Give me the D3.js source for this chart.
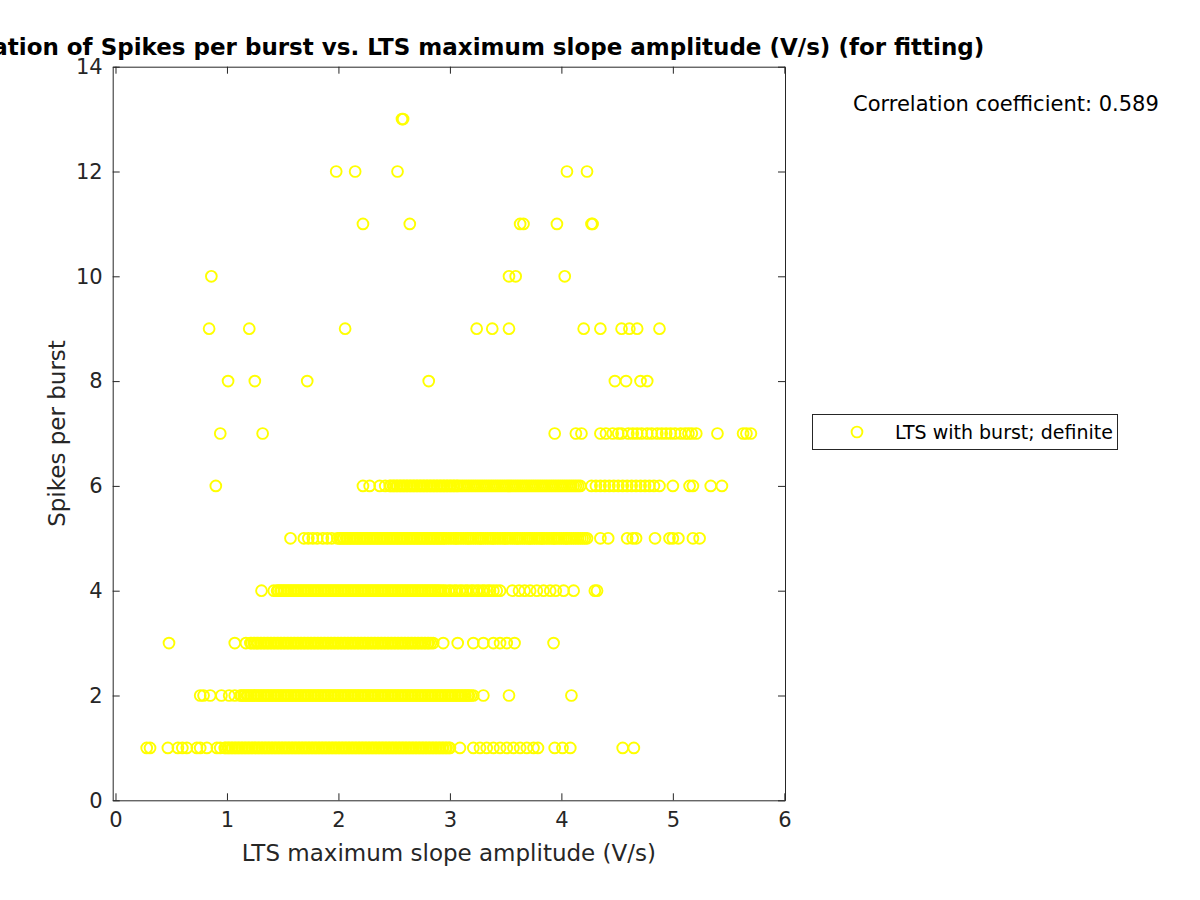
<!DOCTYPE html>
<html>
<head>
<meta charset="utf-8">
<script src="https://cdn.jsdelivr.net/npm/d3@7"></script>
<style>
  body { margin: 0; background: #fff; }
  text { font-family: "DejaVu Sans", sans-serif; fill: #262626; }
</style>
</head>
<body>
<div id="chart"></div>
<script>
// LTS maximum slope amplitude (V/s) values, one array per spikes-per-burst level
const slopeAt1 = [0.28, 0.31, 0.47, 0.56, 0.60, 0.64, 0.73, 0.76, 0.82, 0.91, 0.94,
  0.98, 0.99, 1.01, 1.02, 1.04, 1.05, 1.07, 1.08, 1.10, 1.11, 1.13, 1.14, 1.16, 1.17, 1.19,
  1.20, 1.22, 1.23, 1.25, 1.26, 1.28, 1.29, 1.31, 1.32, 1.34, 1.35, 1.37, 1.38, 1.40, 1.41,
  1.43, 1.44, 1.46, 1.47, 1.49, 1.50, 1.52, 1.53, 1.55, 1.56, 1.58, 1.59, 1.61, 1.62, 1.64,
  1.65, 1.67, 1.68, 1.70, 1.71, 1.73, 1.74, 1.76, 1.77, 1.79, 1.80, 1.82, 1.83, 1.85, 1.86,
  1.88, 1.89, 1.91, 1.92, 1.94, 1.95, 1.97, 1.98, 2.00, 2.01, 2.03, 2.04, 2.06, 2.07, 2.09,
  2.10, 2.12, 2.13, 2.15, 2.16, 2.18, 2.19, 2.21, 2.22, 2.24, 2.25, 2.27, 2.28, 2.30, 2.31,
  2.33, 2.34, 2.36, 2.37, 2.39, 2.40, 2.42, 2.43, 2.45, 2.46, 2.48, 2.49, 2.51, 2.52, 2.54,
  2.55, 2.57, 2.58, 2.60, 2.61, 2.63, 2.64, 2.66, 2.67, 2.69, 2.70, 2.72, 2.73, 2.75, 2.76,
  2.78, 2.79, 2.81, 2.82, 2.84, 2.85, 2.87, 2.88, 2.90, 2.91, 2.93, 2.94, 2.96, 2.97, 2.99,
  3.00, 3.09, 3.21, 3.27, 3.33, 3.39, 3.45, 3.51, 3.57, 3.63, 3.69, 3.75, 3.79, 3.94, 4.01,
  4.08, 4.55, 4.65];
const slopeAt2 = [0.76, 0.79, 0.85, 0.95, 1.02, 1.07,
  1.12, 1.13, 1.15, 1.16, 1.18, 1.19, 1.21, 1.22, 1.24, 1.25, 1.27, 1.28, 1.30, 1.31, 1.33,
  1.34, 1.36, 1.37, 1.39, 1.40, 1.42, 1.43, 1.45, 1.46, 1.48, 1.49, 1.51, 1.52, 1.54, 1.55,
  1.57, 1.58, 1.60, 1.61, 1.63, 1.64, 1.66, 1.67, 1.69, 1.70, 1.72, 1.73, 1.75, 1.76, 1.78,
  1.79, 1.81, 1.82, 1.84, 1.85, 1.87, 1.88, 1.90, 1.91, 1.93, 1.94, 1.96, 1.97, 1.99, 2.00,
  2.02, 2.03, 2.05, 2.06, 2.08, 2.09, 2.11, 2.12, 2.14, 2.15, 2.17, 2.18, 2.20, 2.21, 2.23,
  2.24, 2.26, 2.27, 2.29, 2.30, 2.32, 2.33, 2.35, 2.36, 2.38, 2.39, 2.41, 2.42, 2.44, 2.45,
  2.47, 2.48, 2.50, 2.51, 2.53, 2.54, 2.56, 2.57, 2.59, 2.60, 2.62, 2.63, 2.65, 2.66, 2.68,
  2.69, 2.71, 2.72, 2.74, 2.75, 2.77, 2.78, 2.80, 2.81, 2.83, 2.84, 2.86, 2.87, 2.89, 2.90,
  2.92, 2.93, 2.95, 2.96, 2.98, 2.99, 3.01, 3.02, 3.04, 3.05, 3.07, 3.08, 3.10, 3.11, 3.13,
  3.14, 3.16, 3.17, 3.19, 3.21, 3.30, 3.53, 4.09];
const slopeAt3 = [0.48, 1.07, 1.17,
  1.21, 1.22, 1.24, 1.25, 1.27, 1.28, 1.30, 1.31, 1.33, 1.34, 1.36, 1.37, 1.39, 1.40, 1.42,
  1.43, 1.45, 1.46, 1.48, 1.49, 1.51, 1.52, 1.54, 1.55, 1.57, 1.58, 1.60, 1.61, 1.63, 1.64,
  1.66, 1.67, 1.69, 1.70, 1.72, 1.73, 1.75, 1.76, 1.78, 1.79, 1.81, 1.82, 1.84, 1.85, 1.87,
  1.88, 1.90, 1.91, 1.93, 1.94, 1.96, 1.97, 1.99, 2.00, 2.02, 2.03, 2.05, 2.06, 2.08, 2.09,
  2.11, 2.12, 2.14, 2.15, 2.17, 2.18, 2.20, 2.21, 2.23, 2.24, 2.26, 2.27, 2.29, 2.30, 2.32,
  2.33, 2.35, 2.36, 2.38, 2.39, 2.41, 2.42, 2.44, 2.45, 2.47, 2.48, 2.50, 2.51, 2.53, 2.54,
  2.56, 2.57, 2.59, 2.60, 2.62, 2.63, 2.65, 2.66, 2.68, 2.69, 2.71, 2.72, 2.74, 2.75, 2.77,
  2.78, 2.80, 2.81, 2.83, 2.85,
  2.94, 3.07, 3.21, 3.30, 3.39, 3.45, 3.51, 3.58, 3.93];
const slopeAt4 = [1.31, 1.42,
  1.45, 1.46, 1.48, 1.49, 1.51, 1.52, 1.54, 1.55, 1.57, 1.58, 1.60, 1.61, 1.63, 1.64, 1.66,
  1.67, 1.69, 1.70, 1.72, 1.73, 1.75, 1.76, 1.78, 1.79, 1.81, 1.82, 1.84, 1.85, 1.87, 1.88,
  1.90, 1.91, 1.93, 1.94, 1.96, 1.97, 1.99, 2.00, 2.02, 2.03, 2.05, 2.06, 2.08, 2.09, 2.11,
  2.12, 2.14, 2.15, 2.17, 2.18, 2.20, 2.21, 2.23, 2.24, 2.26, 2.27, 2.29, 2.30, 2.32, 2.33,
  2.35, 2.36, 2.38, 2.39, 2.41, 2.42, 2.44, 2.45, 2.47, 2.48, 2.50, 2.51, 2.53, 2.54, 2.56,
  2.57, 2.59, 2.60, 2.62, 2.63, 2.65, 2.66, 2.68, 2.69, 2.71, 2.72, 2.74, 2.75, 2.77, 2.78,
  2.80, 2.81, 2.83, 2.84, 2.86, 2.87, 2.89, 2.90, 2.92, 2.94,
  2.96, 2.99, 3.01, 3.04, 3.06, 3.09, 3.11, 3.14, 3.16, 3.19, 3.21, 3.24, 3.26, 3.29, 3.31,
  3.34, 3.36, 3.39, 3.42,
  3.45, 3.56, 3.62, 3.67, 3.72, 3.78, 3.84, 3.90, 3.95, 4.02, 4.11, 4.30, 4.32];
const slopeAt5 = [1.57, 1.69, 1.73, 1.77, 1.81, 1.86, 1.90, 1.94, 1.99,
  2.01, 2.02, 2.04, 2.05, 2.07, 2.08, 2.10, 2.11, 2.13, 2.14, 2.16, 2.17, 2.19, 2.20, 2.22,
  2.23, 2.25, 2.26, 2.28, 2.29, 2.31, 2.32, 2.34, 2.35, 2.37, 2.38, 2.40, 2.41, 2.43, 2.44,
  2.46, 2.47, 2.49, 2.50, 2.52, 2.53, 2.55, 2.56, 2.58, 2.59, 2.61, 2.62, 2.64, 2.65, 2.67,
  2.68, 2.70, 2.71, 2.73, 2.74, 2.76, 2.77, 2.79, 2.80, 2.82, 2.83, 2.85, 2.86, 2.88, 2.89,
  2.91, 2.92, 2.94, 2.95,
  2.97, 2.99, 3.01, 3.03, 3.05, 3.06, 3.08, 3.10, 3.12, 3.14, 3.16, 3.17, 3.19, 3.21, 3.23,
  3.25, 3.27, 3.28, 3.30, 3.32, 3.34, 3.36, 3.38, 3.39, 3.41, 3.43, 3.45, 3.47, 3.49, 3.50,
  3.52, 3.54, 3.56, 3.58, 3.60, 3.61, 3.63, 3.65, 3.67, 3.69, 3.71, 3.72, 3.74, 3.76, 3.78,
  3.80, 3.82, 3.83, 3.85, 3.87, 3.89, 3.91, 3.93, 3.94, 3.96, 3.98, 4.00, 4.02, 4.04, 4.05,
  4.07, 4.09, 4.11, 4.13, 4.15, 4.17, 4.19, 4.21, 4.23,
  4.35, 4.42, 4.59, 4.64, 4.67, 4.84, 4.97, 5.00, 5.05, 5.18, 5.24];
const slopeAt6 = [0.90, 2.22, 2.28, 2.37, 2.42,
  2.46, 2.47, 2.49, 2.50, 2.52, 2.53, 2.55, 2.56, 2.58, 2.59, 2.61, 2.62, 2.64, 2.65, 2.67,
  2.68, 2.70, 2.71, 2.73, 2.74, 2.76, 2.77, 2.79, 2.80, 2.82, 2.83, 2.85, 2.86, 2.88, 2.89,
  2.91, 2.92, 2.94, 2.95, 2.97, 2.98, 3.00, 3.01, 3.03, 3.04, 3.06, 3.07, 3.09,
  3.11, 3.13, 3.15, 3.17, 3.19, 3.21, 3.23, 3.25, 3.27, 3.29, 3.31, 3.33, 3.35, 3.37, 3.39,
  3.41, 3.43, 3.45, 3.47, 3.49, 3.51, 3.53, 3.55, 3.57, 3.59, 3.61, 3.63, 3.65, 3.67, 3.69,
  3.71, 3.73, 3.75, 3.77, 3.79, 3.81, 3.83, 3.85, 3.87, 3.89, 3.91, 3.93, 3.95, 3.97, 3.99,
  4.01, 4.03, 4.05, 4.07, 4.09, 4.11, 4.13, 4.15, 4.17,
  4.27, 4.31, 4.35, 4.39, 4.43, 4.47, 4.51, 4.55, 4.59, 4.63, 4.67, 4.71, 4.75, 4.79, 4.83,
  4.88, 5.00, 5.15, 5.18, 5.34, 5.44];
const slopeAt7 = [0.94, 1.32, 3.94, 4.13, 4.18, 4.35, 4.40, 4.46, 4.51, 4.54, 4.60, 4.64,
  4.68, 4.72, 4.77, 4.81, 4.86, 4.90, 4.94, 4.98, 5.02, 5.07, 5.11, 5.14, 5.17, 5.21, 5.40,
  5.63, 5.66, 5.70];
const slopeAt8 = [1.01, 1.25, 1.72, 2.81, 4.48, 4.58, 4.71, 4.77];
const slopeAt9 = [0.84, 1.20, 2.06, 3.24, 3.38, 3.53, 4.20, 4.35, 4.54, 4.61, 4.68, 4.88];
const slopeAt10 = [0.86, 3.53, 3.59, 4.03];
const slopeAt11 = [2.22, 2.64, 3.63, 3.66, 3.96, 4.27, 4.28];
const slopeAt12 = [1.98, 2.15, 2.53, 4.05, 4.23];
const slopeAt13 = [2.57, 2.58];

const spikeLevels = [1, 2, 3, 4, 5, 6, 7, 8, 9, 10, 11, 12, 13];
const slopeByLevel = [slopeAt1, slopeAt2, slopeAt3, slopeAt4, slopeAt5, slopeAt6, slopeAt7,
  slopeAt8, slopeAt9, slopeAt10, slopeAt11, slopeAt12, slopeAt13];

const xTicks = [0, 1, 2, 3, 4, 5, 6];
const yTicks = [0, 2, 4, 6, 8, 10, 12, 14];

const titleText = "Correlation of Spikes per burst vs. LTS maximum slope amplitude (V/s) (for fitting)";
const xLabel = "LTS maximum slope amplitude (V/s)";
const yLabel = "Spikes per burst";
const legendLabel = "LTS with burst; definite";
const corrText = "Correlation coefficient: 0.589";

// flatten into [x, y] pairs
const points = [];
spikeLevels.forEach((lvl, i) => {
  slopeByLevel[i].forEach(v => points.push([v, lvl]));
});

const W = 1200, H = 900;
const plot = {left: 112.7, right: 785, top: 66.7, bottom: 800.3};
const axisColor = "#262626";
const markerColor = "#ffff00";

const svg = d3.select("#chart").append("svg")
  .attr("width", W).attr("height", H)
  .style("background", "#fff");

const x = d3.scaleLinear().domain([-0.025, 6.006]).range([plot.left, plot.right]);
const y = d3.scaleLinear().domain([0, 14]).range([plot.bottom, plot.top]);

// points
svg.append("g").selectAll("circle")
  .data(points)
  .join("circle")
    .attr("cx", d => x(d[0]))
    .attr("cy", d => y(d[1]))
    .attr("r", 5.4)
    .attr("fill", "none")
    .attr("stroke", markerColor)
    .attr("stroke-width", 1.9);

// axes (box with inward ticks on all four sides)
function styleAxis(g) {
  g.select(".domain").attr("stroke", axisColor).attr("stroke-width", 1);
  g.selectAll(".tick line").attr("stroke", axisColor).attr("stroke-width", 1);
  g.selectAll(".tick text").attr("fill", axisColor)
    .style("font-family", "DejaVu Sans").style("font-size", "21px");
}

svg.append("g")
  .attr("transform", `translate(0,${plot.bottom})`)
  .call(d3.axisBottom(x).tickValues(xTicks).tickSize(-7).tickSizeOuter(0).tickPadding(12).tickFormat(d3.format("d")))
  .call(styleAxis);
svg.append("g")
  .attr("transform", `translate(0,${plot.top})`)
  .call(d3.axisTop(x).tickValues(xTicks).tickSize(-7).tickSizeOuter(0).tickFormat(""))
  .call(styleAxis);
svg.append("g")
  .attr("transform", `translate(${plot.left},0)`)
  .call(d3.axisLeft(y).tickValues(yTicks).tickSize(-7).tickSizeOuter(0).tickPadding(10).tickFormat(d3.format("d")))
  .call(styleAxis);
svg.append("g")
  .attr("transform", `translate(${plot.right},0)`)
  .call(d3.axisRight(y).tickValues(yTicks).tickSize(-7).tickSizeOuter(0).tickFormat(""))
  .call(styleAxis);

// labels
svg.append("text")
  .attr("x", (plot.left + plot.right) / 2)
  .attr("y", 861)
  .attr("text-anchor", "middle")
  .style("font-size", "23px")
  .text(xLabel);

svg.append("text")
  .attr("transform", `translate(65,${(plot.top + plot.bottom) / 2}) rotate(-90)`)
  .attr("text-anchor", "middle")
  .style("font-size", "23px")
  .text(yLabel);

svg.append("text")
  .attr("x", (plot.left + plot.right) / 2)
  .attr("y", 55)
  .attr("text-anchor", "middle")
  .style("font-size", "23px")
  .style("font-weight", "bold")
  .style("fill", "#000")
  .text(titleText);

svg.append("text")
  .attr("x", 853)
  .attr("y", 111)
  .style("font-size", "21px")
  .style("fill", "#000")
  .text(corrText);

// legend
const legend = svg.append("g");
legend.append("rect")
  .attr("x", 812.5).attr("y", 414.5)
  .attr("width", 305).attr("height", 35)
  .attr("fill", "#fff")
  .attr("stroke", axisColor)
  .attr("stroke-width", 1);
legend.append("circle")
  .attr("cx", 857).attr("cy", 432)
  .attr("r", 5.4)
  .attr("fill", "none")
  .attr("stroke", markerColor)
  .attr("stroke-width", 1.9);
legend.append("text")
  .attr("x", 895).attr("y", 439)
  .style("font-size", "19px")
  .style("fill", "#000")
  .text(legendLabel);
</script>
</body>
</html>
